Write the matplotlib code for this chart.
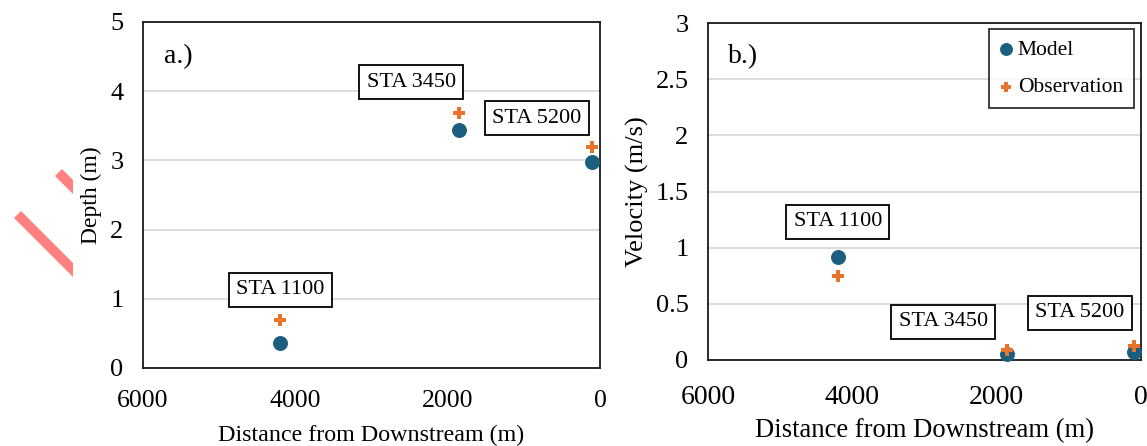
import matplotlib
matplotlib.use("Agg")
import matplotlib.pyplot as plt
from matplotlib.patches import Polygon

plt.rcParams['font.family'] = ['Liberation Serif', 'DejaVu Serif']

stations = ["STA 1100", "STA 3450", "STA 5200"]
distance = [4200, 1850, 100]
depth_model = [0.36, 3.44, 2.98]
depth_obs = [0.70, 3.69, 3.19]
vel_model = [0.92, 0.05, 0.075]
vel_obs = [0.75, 0.09, 0.125]

depth_label_pos = [(4200, 1.13), (2480, 4.13), (830, 3.61)]
vel_label_pos = [(4200, 1.23), (2740, 0.34), (845, 0.42)]

C_MODEL = "#1B5F80"
C_OBS = "#E8732A"

W, H = 1147, 446
fig = plt.figure(figsize=(W / 100, H / 100), dpi=100)

ax1 = fig.add_axes([143 / W, 1 - 368 / H, 457 / W, 346 / H])
ax2 = fig.add_axes([708 / W, 1 - 360 / H, 433 / W, 337 / H])

def style(ax, ymax, ystep, ylabel, panel, xtsize, ytsize, xpad, xlabsize, xlabelpad, ylabsize, ylabelpad):
    ax.set_xlim(6000, 0)
    ax.set_ylim(0, ymax)
    ax.set_xticks([6000, 4000, 2000, 0])
    ax.set_xticklabels(["6000", "4000", "2000", "0"])
    yt = []
    v = 0
    while v <= ymax + 1e-9:
        yt.append(round(v, 2))
        v += ystep
    ax.set_yticks(yt)
    ax.set_yticklabels([("%g" % t) for t in yt])
    ax.tick_params(length=0)
    ax.tick_params(axis='y', pad=14, labelsize=ytsize)
    ax.tick_params(axis='x', pad=xpad, labelsize=xtsize)
    ax.grid(axis='y', color="#d9d9d9", linewidth=1.3)
    ax.set_axisbelow(True)
    for s in ax.spines.values():
        s.set_linewidth(1.3)
        s.set_color("#1a1a1a")
    ax.set_xlabel("Distance from Downstream (m)", fontsize=xlabsize, labelpad=xlabelpad)
    ax.set_ylabel(ylabel, fontsize=ylabsize, labelpad=ylabelpad)
    ax.text(0.045, 0.9, panel, transform=ax.transAxes, fontsize=20, ha='left', va='center')

style(ax1, 5, 1, "Depth (m)", "a.)", 18.5, 19, 16, 17.3, 9, 17, 6)
style(ax2, 3, 0.5, "Velocity (m/s)", "b.)", 20, 19, 18, 19.2, 6, 19, 5)

bbox = dict(boxstyle="square,pad=0.33", fc="white", ec="black", lw=1.3)

for ax, ym, yo, lp in [(ax1, depth_model, depth_obs, depth_label_pos),
                       (ax2, vel_model, vel_obs, vel_label_pos)]:
    ax.scatter(distance, ym, s=95, color=C_MODEL, marker='o', zorder=3, label="Model", clip_on=False)
    ax.scatter(distance, yo, s=85, color=C_OBS, marker='P', zorder=4, label="Observation", clip_on=False, linewidths=0)
    for name, (px, py) in zip(stations, lp):
        ax.text(px, py, name, fontsize=16, ha='center', va='center', bbox=bbox, zorder=5)

leg = ax2.legend(loc='upper right', fontsize=15.5, frameon=True, fancybox=False,
                 edgecolor='black', handlelength=0.6, handletextpad=0.25, borderpad=0.5,
                 labelspacing=0.8, markerscale=0.85, borderaxespad=0,
                 bbox_to_anchor=(0.983, 0.982))
leg.get_frame().set_linewidth(1.3)

# pink diagonal stripes at far left
def figpoly(pts):
    return Polygon([(x / W, 1 - y / H) for x, y in pts], closed=True,
                   transform=fig.transFigure, fc="#FF8080", ec='none')

fig.patches.append(figpoly([(62, 169), (73, 180), (73, 194), (55, 176)]))
fig.patches.append(figpoly([(21, 211), (73, 263), (73, 277), (14, 218)]))

fig.savefig("out.png", dpi=100)
